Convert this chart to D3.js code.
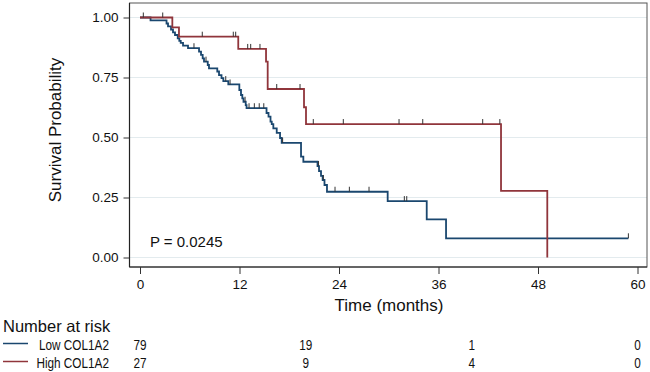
<!DOCTYPE html>
<html lang="en">
<head>
<meta charset="UTF-8">
<title>Kaplan-Meier COL1A2</title>
<script src="https://d3js.org/d3.v7.min.js"></script>
<style>
  body { margin: 0; background: #fff; font-family: Arial, "Liberation Sans", sans-serif; }
  text { fill: #111; }
  .tick-label { font-size: 13.5px; }
  .title { font-size: 17px; }
  .risk { font-size: 15.5px; }
</style>
</head>
<body>
<div id="chart"></div>
<script>
// Low COL1A2 curve: step times (months) and survival after each step
const lowTimes = [1.27, 3.2, 3.38, 3.74, 3.98, 4.22, 4.55, 4.74, 4.91, 5.19, 5.79, 7.12, 7.36, 7.56, 7.72,
  8.17, 8.32, 9.32, 9.53, 9.83, 10.05, 10.65, 11.98, 12.18, 12.34, 12.48, 12.75, 12.85, 15.26, 15.5,
  15.74, 15.89, 16.08, 16.49, 16.89, 17.09, 19.42, 19.7, 21.41, 21.59, 21.83, 22.03, 22.25, 22.55,
  29.87, 34.58, 36.91];
const lowSurv = [0.988, 0.975, 0.963, 0.95, 0.938, 0.927, 0.913, 0.903, 0.894, 0.883, 0.872, 0.858, 0.844, 0.83, 0.816,
  0.802, 0.788, 0.775, 0.76, 0.747, 0.735, 0.721, 0.698, 0.677, 0.663, 0.649, 0.635, 0.622, 0.602, 0.587,
  0.566, 0.556, 0.538, 0.519, 0.498, 0.478, 0.42, 0.399, 0.381, 0.36, 0.34, 0.323, 0.302, 0.274,
  0.235, 0.159, 0.08];
const lowCensor = [6.51, 7.96, 10.34, 10.86, 12.67, 13.15, 13.79, 14.38, 14.93, 17.2, 21.53, 22.11,
  23.52, 25.25, 27.62, 31.88, 32.17, 58.9];

// High COL1A2 curve
const highTimes = [3.9, 4.7, 11.85, 15.2, 15.4, 19.78, 20.02, 43.54, 49.12];
const highSurv = [0.959, 0.92, 0.869, 0.816, 0.702, 0.626, 0.556, 0.278, 0];
const highCensor = [0.4, 2.74, 7.51, 11.25, 11.54, 12.99, 13.35, 14.47, 16.49, 19.3, 20.9, 24.52,
  31.24, 34.1, 41.33, 43.4];

const xTicks = [0, 12, 24, 36, 48, 60];
const yTicks = [0, 0.25, 0.5, 0.75, 1];

const riskTimes = [0, 20, 40, 60];
const lowRisk = [79, 19, 1, 0];
const highRisk = [27, 9, 4, 0];
const groups = ["Low COL1A2", "High COL1A2"];

const colors = { low: "#1a476f", high: "#90353b" };

const W = 650, H = 372;
const frame = { left: 129.5, top: 3, right: 647, bottom: 267 };

const svg = d3.select("#chart").append("svg")
  .attr("width", W)
  .attr("height", H);

const x = d3.scaleLinear().domain([0, 60]).range([140, 637.5]);
const y = d3.scaleLinear().domain([0, 1]).range([257.5, 17.5]);

// gridlines
svg.append("g")
  .selectAll("line")
  .data(yTicks)
  .join("line")
  .attr("x1", frame.left)
  .attr("x2", frame.right)
  .attr("y1", d => y(d))
  .attr("y2", d => y(d))
  .attr("stroke", "#e3ebee")
  .attr("stroke-width", 1);

// frame (top and right are lighter)
svg.append("rect")
  .attr("x", frame.left)
  .attr("y", frame.top)
  .attr("width", frame.right - frame.left)
  .attr("height", frame.bottom - frame.top)
  .attr("fill", "none")
  .attr("stroke", "#555")
  .attr("stroke-width", 1);

// axes
const xAxis = d3.axisBottom(x).tickValues(xTicks).tickSize(7).tickPadding(5).tickFormat(d3.format("d"));
const yAxis = d3.axisLeft(y).tickValues(yTicks).tickSize(6).tickPadding(5).tickFormat(d3.format(".2f"));

const gx = svg.append("g")
  .attr("transform", `translate(0,${frame.bottom})`)
  .call(xAxis);
gx.select(".domain").attr("d", `M${frame.left},0H${frame.right}`);

const gy = svg.append("g")
  .attr("transform", `translate(${frame.left},0)`)
  .call(yAxis);
gy.select(".domain").attr("d", `M0,${frame.top}V${frame.bottom}`);

[gx, gy].forEach(g => {
  g.select(".domain").attr("stroke", "#222").attr("stroke-width", 1.2);
  g.selectAll(".tick line").attr("stroke", "#333");
  g.selectAll(".tick text")
    .attr("class", "tick-label")
    .attr("font-family", null)
    .attr("font-size", null)
    .attr("fill", "#111");
});

// axis titles
svg.append("text")
  .attr("class", "title")
  .attr("text-anchor", "middle")
  .attr("transform", `translate(61,130) rotate(-90)`)
  .text("Survival Probability");

svg.append("text")
  .attr("class", "title")
  .attr("text-anchor", "middle")
  .attr("x", 389)
  .attr("y", 311)
  .text("Time (months)");

// survival curves
const line = d3.line()
  .x(d => x(d[0]))
  .y(d => y(d[1]))
  .curve(d3.curveStepAfter);

function curvePoints(times, surv, endTime) {
  const pts = [[0, 1]];
  times.forEach((t, i) => pts.push([t, surv[i]]));
  if (endTime !== undefined) pts.push([endTime, surv[surv.length - 1]]);
  return pts;
}

function survAt(times, surv, t) {
  let s = 1;
  times.forEach((tt, i) => { if (tt <= t) s = surv[i]; });
  return s;
}

const series = [
  { key: "low", times: lowTimes, surv: lowSurv, censor: lowCensor, end: d3.max(lowCensor) },
  { key: "high", times: highTimes, surv: highSurv, censor: highCensor, end: undefined }
];

series.forEach(s => {
  svg.append("path")
    .datum(curvePoints(s.times, s.surv, s.end))
    .attr("fill", "none")
    .attr("stroke", colors[s.key])
    .attr("stroke-width", 1.8)
    .attr("d", line);

  svg.append("g")
    .selectAll("line")
    .data(s.censor)
    .join("line")
    .attr("x1", d => x(d))
    .attr("x2", d => x(d))
    .attr("y1", d => y(survAt(s.times, s.surv, d)))
    .attr("y2", d => y(survAt(s.times, s.surv, d)) - 5)
    .attr("stroke", "#333")
    .attr("stroke-width", 1);
});

// p-value
svg.append("text")
  .attr("x", x(1.2))
  .attr("y", y(0.043))
  .attr("font-size", "15px")
  .text("P = 0.0245");

// number at risk table
svg.append("text")
  .attr("x", 3)
  .attr("y", 331.5)
  .attr("font-size", "16.5px")
  .text("Number at risk");

function narrow(px, py, txt, anchor) {
  svg.append("text")
    .attr("class", "risk")
    .attr("text-anchor", anchor)
    .attr("transform", `translate(${px},${py}) scale(0.76,1)`)
    .text(txt);
}

const rows = [
  { key: "low", label: groups[0], risk: lowRisk, yy: 349.5 },
  { key: "high", label: groups[1], risk: highRisk, yy: 367.5 }
];

rows.forEach(r => {
  svg.append("line")
    .attr("x1", 3)
    .attr("x2", 28)
    .attr("y1", r.yy - 6)
    .attr("y2", r.yy - 6)
    .attr("stroke", colors[r.key])
    .attr("stroke-width", 1.5);
  narrow(109, r.yy, r.label, "end");
  r.risk.forEach((n, i) => narrow(x(riskTimes[i]), r.yy, n, "middle"));
});
</script>
</body>
</html>
